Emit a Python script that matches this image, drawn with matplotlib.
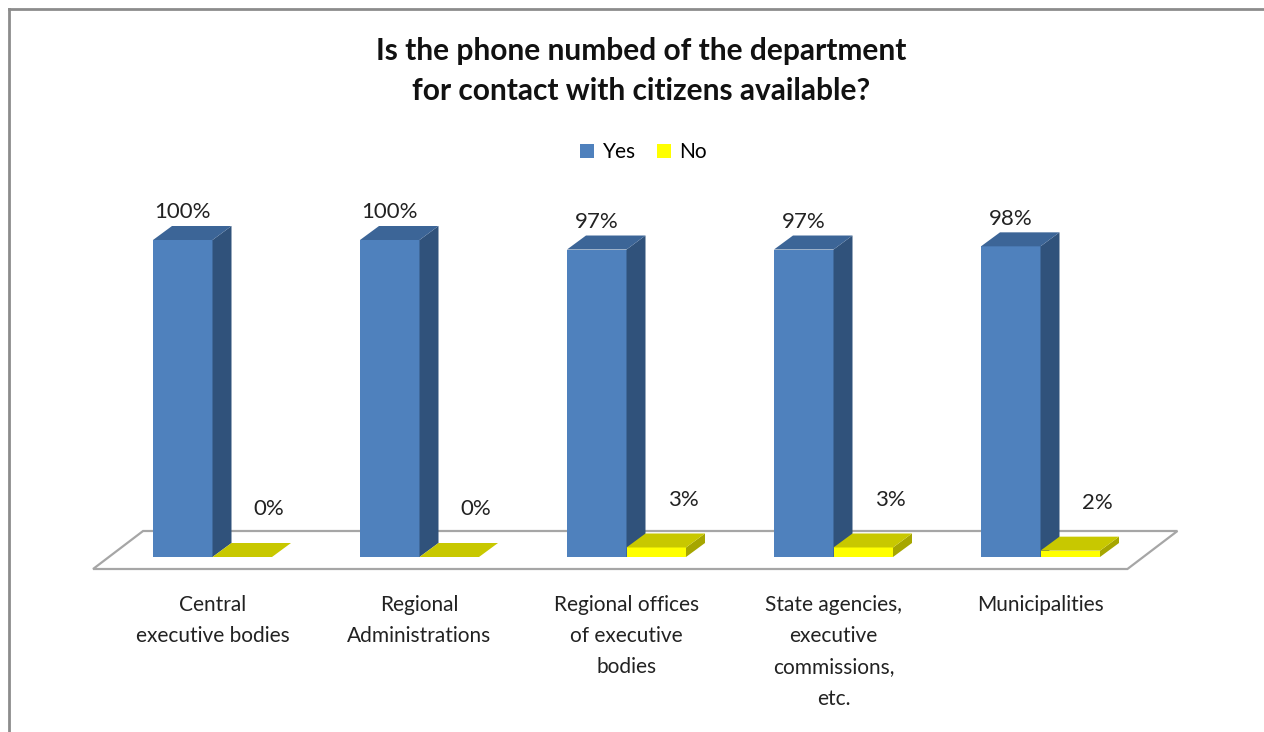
import numpy as np
import matplotlib.pyplot as plt
from matplotlib.patches import Polygon, Patch
from matplotlib.lines import Line2D

plt.rcParams['font.family'] = ['Lato', 'DejaVu Sans']

categories = [
    "Central\nexecutive bodies",
    "Regional\nAdministrations",
    "Regional offices\nof executive\nbodies",
    "State agencies,\nexecutive\ncommissions,\netc.",
    "Municipalities",
]
yes_vals = [100, 100, 97, 97, 98]
no_vals = [0, 0, 3, 3, 2]
series_names = ["Yes", "No"]

# colours: front, side, top
yes_cols = ("#4F81BD", "#30527B", "#3C6597")
no_cols = ("#FFFF00", "#A6A600", "#C8C800")

W, H, DPI = 1264, 732, 100
fig = plt.figure(figsize=(W / DPI, H / DPI), dpi=DPI)

# pixel layout: one group = 207 px, 100 % = 317 px
grp_px, pct_px = 207.0, 3.17
x0_px, y0_px = 212.5, 557.0
xlim = (-0.7, 4.7)
ylim = (-6, 112)
left = (x0_px + xlim[0] * grp_px) / W
right = (x0_px + xlim[1] * grp_px) / W
bottom = (H - (y0_px - ylim[0] * pct_px)) / H
top = (H - (y0_px - ylim[1] * pct_px)) / H
ax = fig.add_axes([left, bottom, right - left, top - bottom])
ax.set_xlim(*xlim)
ax.set_ylim(*ylim)
ax.axis("off")

bw = 59.5 / grp_px       # bar width in x units
ddx = 19.0 / grp_px      # depth offset in x
ddy = 14.0 / pct_px      # depth offset in y


def bar3d(x, h, cols):
    front, side, topc = cols
    ax.add_patch(Polygon([(x, 0), (x + bw, 0), (x + bw, h), (x, h)],
                         closed=True, fc=front, ec="none", zorder=3))
    ax.add_patch(Polygon([(x + bw, 0), (x + bw + ddx, ddy), (x + bw + ddx, h + ddy),
                          (x + bw, h)], closed=True, fc=side, ec="none", zorder=3))
    ax.add_patch(Polygon([(x, h), (x + bw, h), (x + bw + ddx, h + ddy),
                          (x + ddx, h + ddy)], closed=True, fc=topc, ec="none", zorder=3))


# floor
fl_front = -12.0 / pct_px
fl_back = 26.0 / pct_px
fl_dx = 50.0 / grp_px
fl_l, fl_r = -0.577, 4.42
ax.add_patch(Polygon([(fl_l, fl_front), (fl_r, fl_front), (fl_r + fl_dx, fl_back),
                      (fl_l + fl_dx, fl_back)], closed=True, fc="white",
                     ec="#A6A6A6", lw=1.6, zorder=1))

for i, (yv, nv) in enumerate(zip(yes_vals, no_vals)):
    xy = i - bw
    xn = i
    bar3d(xy, yv, yes_cols)
    bar3d(xn, nv, no_cols)
    ax.text(xy + bw / 2, yv + ddy + 1.2, f"{yv}%", ha="center", va="bottom",
            fontsize=16, color="#222222", zorder=4)
    ax.text(xn + bw / 2 + 0.13, nv + ddy + 7.5, f"{nv}%", ha="center", va="bottom",
            fontsize=16, color="#222222", zorder=4)
    ax.text(i, -12.0, categories[i], ha="center", va="top", fontsize=15,
            color="#222222", linespacing=1.7)

fig.text(0.507, 0.903, "Is the phone numbed of the department\nfor contact with citizens available?",
         ha="center", va="center", fontsize=21.5, fontweight="bold", linespacing=1.48,
         color="#111111")

handles = [Patch(fc=yes_cols[0], ec="none"), Patch(fc=no_cols[0], ec="none")]
fig.legend(handles, series_names, loc="center", bbox_to_anchor=(0.509, 0.792),
           ncol=2, frameon=False, fontsize=15, handlelength=0.7, handleheight=0.7,
           handletextpad=0.4, columnspacing=1.0)

# chart frame (top and left edges)
fig.add_artist(Line2D([9 / W, 9 / W], [0, 1 - 9 / H], transform=fig.transFigure,
                      color="#8C8C8C", lw=2))
fig.add_artist(Line2D([9 / W, 1], [1 - 9 / H, 1 - 9 / H], transform=fig.transFigure,
                      color="#8C8C8C", lw=2))

fig.savefig("out.png", dpi=DPI, facecolor="white")
